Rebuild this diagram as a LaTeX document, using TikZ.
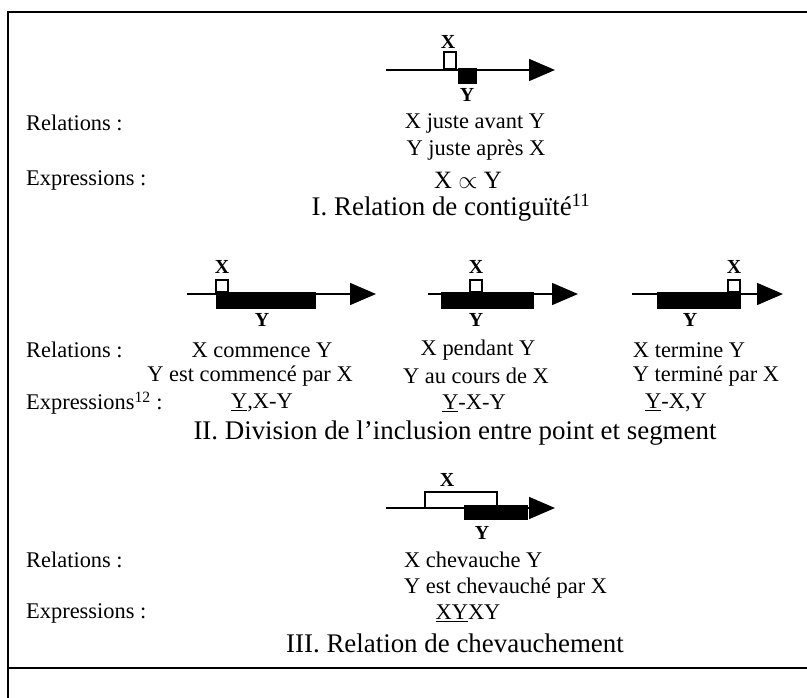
\documentclass[tikz,border=0pt]{standalone}
\usepackage{fontspec}
\setmainfont{Liberation Serif}
\usetikzlibrary{arrows.meta,positioning}

\begin{document}
\begin{tikzpicture}[x=1bp, y=-1bp,
	txt/.style={inner sep=0pt, font=\fontsize{22.5}{26}\selectfont},
	big/.style={inner sep=0pt, font=\fontsize{27}{31}\selectfont},
	lbl/.style={inner sep=0pt, font=\fontsize{20}{23}\selectfont\bfseries},
	tline/.style={line width=1.5bp, -{Triangle[length=26bp, width=22bp]}},
	xbox/.style={draw, line width=1.2bp, fill=white},
	ybar/.style={fill=black}]
	\useasboundingbox (0,0) rectangle (807,698);
	% cadre
	\draw[line width=2bp] (807,12) -- (8,12) -- (8,698);
	\draw[line width=2bp] (8,668) -- (807,668);

	% I. contiguite
	\coordinate (sI) at (386,70);
	\coordinate (eI) at (555,70);
	\draw[tline] (sI) -- (eI);
	\draw[xbox] (444,52) rectangle (456,69);
	\draw[ybar] (458,68) rectangle (476,83);
	\node (xI) at (448,42) [lbl] {X};
	\node (yI) at (467,95) [lbl] {Y};
	\node (relI) at (26,123) [txt, anchor=west] {Relations :};
	\node (avant) at (475,123) [txt] {X juste avant Y};
	\node (apres) at (476,150) [txt] {Y juste après X};
	\node (exprI) at (26,180) [txt, anchor=west] {Expressions :};
	\node (propto) at (468,180) [txt, font=\fontsize{25}{29}\selectfont] {X $\propto$ Y};
	\node (titleI) at (451,208) [big] {I. Relation de contiguïté\textsuperscript{11}};

	% II. inclusion
	\foreach \n/\s/\e/\ba/\bb/\xa/\yl in {1/187/376/216/315/216/262, 2/428/578/441/533/470/476, 3/632/783/657/740/728/690} {
		\coordinate (sII\n) at (\s,294);
		\coordinate (eII\n) at (\e,294);
		\draw[tline] (sII\n) -- (eII\n);
		\draw[ybar] (\ba,292) rectangle (\bb,308);
		\draw[xbox] (\xa,280) rectangle ({\xa+12},292);
		\node (xII\n) at ({\xa+6},267) [lbl] {X};
		\node (yII\n) at (\yl,320) [lbl] {Y};
	}
	\node (relII) at (26,350) [txt, anchor=west] {Relations :};
	\node (commence) at (262,350) [txt] {X commence Y};
	\node (pendant) at (478,350) [txt] {X pendant Y};
	\node (termine) at (689,350) [txt] {X termine Y};
	\node (commencepar) at (250,376) [txt] {Y est commencé par X};
	\node (aucours) at (476,376) [txt] {Y au cours de X};
	\node (terminepar) at (706,376) [txt] {Y terminé par X};
	\node (exprII) at (26,403) [txt, anchor=west] {Expressions\textsuperscript{12} :};
	\node (exprII1) at (262,403) [txt] {\underline{Y},X-Y};
	\node (exprII2) at (474,403) [txt] {\underline{Y}-X-Y};
	\node (exprII3) at (676,403) [txt] {\underline{Y}-X,Y};
	\node (titleII) at (455,433) [big] {II. Division de l’inclusion entre point et segment};

	% III. chevauchement
	\coordinate (sIII) at (386,508);
	\coordinate (eIII) at (555,508);
	\draw[tline] (sIII) -- (eIII);
	\draw[xbox] (425,492) rectangle (497,508);
	\draw[ybar] (464,505) rectangle (527,519);
	\node (xIII) at (447,480) [lbl] {X};
	\node (yIII) at (482,533) [lbl] {Y};
	\node (relIII) at (26,560) [txt, anchor=west] {Relations :};
	\node (chev) at (404,560) [txt, anchor=west] {X chevauche Y};
	\node (chevpar) at (404,588) [txt, anchor=west] {Y est chevauché par X};
	\node (exprIII) at (26,613) [txt, anchor=west] {Expressions :};
	\node (xyxy) at (468,613) [txt] {\underline{XY}XY};
	\node (titleIII) at (455,643) [big] {III. Relation de chevauchement};
\end{tikzpicture}
\end{document}
